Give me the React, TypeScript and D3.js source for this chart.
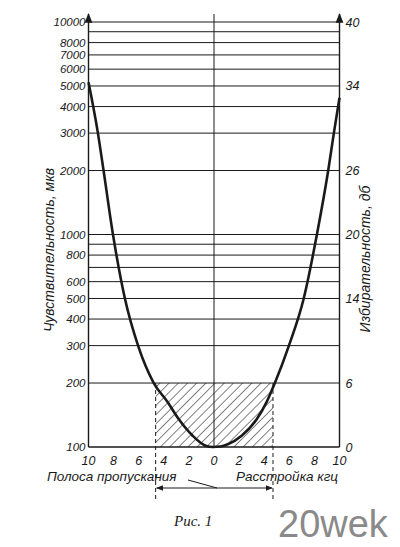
import React from 'react'
import * as d3 from 'd3'

// curve: detuning (kHz) vs. sensitivity (µV)
const detuneKHz = [-10, -9.25, -8.8, -8.05, -7.1, -6.05, -4.8, -3.7, -2.8, -1.7, -0.6, -0.1, 0.5, 1.1, 2.2, 3.4, 4.2, 4.85, 5.97, 7.15, 8.2, 9.1, 9.55, 10]
const sensitivity = [5200, 3000, 2000, 1000, 500, 300, 200, 163, 135, 113, 101, 100, 100.5, 103, 113, 135, 163, 200, 300, 500, 1000, 2000, 3000, 4400]

const gridValues = [10000, 9000, 8000, 7000, 6000, 5000, 4000, 3000, 2000, 1000, 900, 800, 700, 600, 500, 400, 300, 200]
const leftTicks = [10000, 8000, 7000, 6000, 5000, 4000, 3000, 2000, 1000, 800, 600, 500, 400, 300, 200, 100]
const dbTicks = [40, 34, 26, 20, 14, 6, 0]
const xTicks = [-10, -8, -6, -4, -2, 0, 2, 4, 6, 8, 10]
const bandEdges = [-4.65, 4.7]
const bandLevel = 200

const W = 400
const H = 547
const ink = '#1a1a1a'
const numFont = '"Liberation Sans", Arial, sans-serif'

export default function App() {
  const x = d3.scaleLinear().domain([-10, 10]).range([88.5, 339.5])
  const y = d3.scaleLog().domain([100, 10000]).range([447, 22])
  const fromDb = (db: number) => 100 * Math.pow(10, db / 20)

  const pts: [number, number][] = detuneKHz.map((k, i) => [k, sensitivity[i]])
  const line = d3.line<[number, number]>()
    .x(d => x(d[0]))
    .y(d => y(d[1]))
    .curve(d3.curveMonotoneX)

  const [x0, x1] = x.range()
  const yb = y(100)
  const yTop = 14
  const bx0 = x(bandEdges[0])
  const bx1 = x(bandEdges[1])
  const by = y(bandLevel)
  const arrowY = 488

  return (
    <svg width={W} height={H} style={{ position: 'absolute', left: 0, top: 0, background: '#fff' }}>
      <defs>
        <pattern id="hatch" width="6.5" height="6.5" patternUnits="userSpaceOnUse" patternTransform="rotate(45)">
          <line x1="0" y1="0" x2="0" y2="6.5" stroke={ink} strokeWidth="1.1" />
        </pattern>
        <marker id="arr" viewBox="0 0 10 10" refX="9" refY="5" markerWidth="7" markerHeight="7" orient="auto-start-reverse">
          <path d="M0,1 L10,5 L0,9 z" fill={ink} />
        </marker>
      </defs>

      {/* hatched pass band */}
      <rect x={bx0} y={by} width={bx1 - bx0} height={yb - by} fill="url(#hatch)" />

      {/* horizontal grid */}
      {gridValues.map(v => (
        <line key={v} x1={x0} x2={x1} y1={y(v)} y2={y(v)} stroke={ink} strokeWidth={1} />
      ))}

      {/* axes */}
      <line x1={x0} x2={x0} y1={yb} y2={yTop} stroke={ink} strokeWidth={1.4} markerEnd="url(#arr)" />
      <line x1={x1} x2={x1} y1={yb} y2={yTop} stroke={ink} strokeWidth={1.4} markerEnd="url(#arr)" />
      <line x1={x0} x2={x1} y1={yb} y2={yb} stroke={ink} strokeWidth={1.6} />
      <line x1={x(0)} x2={x(0)} y1={yb} y2={yTop} stroke={ink} strokeWidth={1} />

      {/* band edges, dashed */}
      {[bx0, bx1].map((bx, i) => (
        <line key={i} x1={bx} x2={bx} y1={by} y2={500} stroke={ink} strokeWidth={1} strokeDasharray="4,3" />
      ))}

      {/* curve */}
      <path d={line(pts) || ''} fill="none" stroke={ink} strokeWidth={2.6} strokeLinejoin="round" />

      {/* left tick labels */}
      {leftTicks.map(v => (
        <text key={v} x={x0 - 3} y={y(v)} dy="0.36em" textAnchor="end"
          fontFamily={numFont} fontStyle="italic" fontSize={11.5} fill={ink}>{v}</text>
      ))}

      {/* right tick labels (dB) */}
      {dbTicks.map(v => (
        <text key={v} x={x1 + 6} y={y(fromDb(v))} dy="0.36em" textAnchor="start"
          fontFamily={numFont} fontStyle="italic" fontSize={12.5} fill={ink}>{v}</text>
      ))}

      {/* bottom tick labels */}
      {xTicks.map(v => (
        <text key={v} x={x(v)} y={465} textAnchor="middle"
          fontFamily={numFont} fontStyle="italic" fontSize={12.5} fill={ink}>{Math.abs(v)}</text>
      ))}

      {/* axis titles */}
      <text transform="translate(54,250) rotate(-90)" textAnchor="middle"
        fontFamily={numFont} fontStyle="italic" fontSize={14} fill={ink}>Чувствительность, мкв</text>
      <text transform="translate(370,259) rotate(-90)" textAnchor="middle"
        fontFamily={numFont} fontStyle="italic" fontSize={14} fill={ink}>Избирательность, дб</text>

      <text x={47} y={481} fontFamily={numFont} fontStyle="italic" fontSize={13.5} fill={ink}>Полоса пропускания</text>
      <text x={236} y={481} fontFamily={numFont} fontStyle="italic" fontSize={13.5} fill={ink}>Расстройка кгц</text>

      {/* band width arrow and leader */}
      <line x1={bx0 + 1} x2={bx1 - 1} y1={arrowY} y2={arrowY} stroke={ink} strokeWidth={1}
        markerStart="url(#arr)" markerEnd="url(#arr)" />
      <line x1={188} y1={480} x2={217} y2={arrowY} stroke={ink} strokeWidth={1} />

      {/* caption */}
      <text x={174} y={526} fontFamily='"Liberation Serif", serif' fontStyle="italic" fontSize={15} fill={ink}>Рис. 1</text>
      <text x={278} y={537} fontFamily='"Liberation Sans", Arial, sans-serif' fontSize={38} fill="#8a8a8a">20wek</text>
    </svg>
  )
}
